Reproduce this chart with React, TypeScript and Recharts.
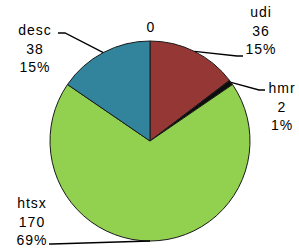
import { PieChart, Pie, Cell } from 'recharts';

// slice names, values and fills, clockwise from 12 o'clock
const NAMES = ['', 'udi', 'hmr', 'htsx', 'desc'];
const VALUES = [0, 36, 2, 170, 38];
const COLORS = ['#31849B', '#953735', '#0d0d0d', '#92D050', '#31849B'];

// Excel-style callout placement (text centre x, first baseline y, leader end + elbow)
const CALLOUTS: Record<string, { tx: number; ty: number; ex: number; ey: number; bx: number; by: number }> = {
  udi: { tx: 261, ty: 17, bx: 237, by: 56, ex: 243, ey: 56 },
  hmr: { tx: 282, ty: 93, bx: 259, by: 90, ex: 265, ey: 90 },
  htsx: { tx: 32, ty: 208, bx: 52, by: 244, ex: 49, ey: 244 },
  desc: { tx: 35, ty: 35, bx: 65, by: 33, ex: 58, ey: 33 },
};

const RAD = Math.PI / 180;
const LINE_GAP = 18.7;
const FONT = 'Liberation Sans, Arial, sans-serif';

const data = NAMES.map((name, i) => ({ name, value: VALUES[i] }));

function renderLabel(props: any) {
  const { cx, cy, midAngle, outerRadius, name, value, percent } = props;
  const ax = cx + outerRadius * Math.cos(-midAngle * RAD);
  const ay = cy + outerRadius * Math.sin(-midAngle * RAD);
  const textStyle = { fontFamily: FONT, fontSize: 14, fill: '#000', letterSpacing: 1 };

  if (!name) {
    return (
      <text x={ax + 1} y={ay - 9} textAnchor="middle" style={textStyle}>
        {value}
      </text>
    );
  }

  const c = CALLOUTS[name];
  const lines = [name, String(value), `${Math.round(percent * 100)}%`];
  return (
    <g>
      <polyline
        points={`${ax},${ay} ${c.bx},${c.by} ${c.ex},${c.ey}`}
        fill="none"
        stroke="#000"
        strokeWidth={1.3}
      />
      {lines.map((t, i) => (
        <text key={i} x={c.tx} y={c.ty + i * LINE_GAP} textAnchor="middle" style={textStyle}>
          {t}
        </text>
      ))}
    </g>
  );
}

export default function App() {
  return (
    <div style={{ position: 'fixed', left: 0, top: 0, width: 299, height: 248, background: '#fff' }}>
      <PieChart width={299} height={248} margin={{ top: 0, right: 0, bottom: 0, left: 0 }}>
        <Pie
          data={data}
          dataKey="value"
          nameKey="name"
          cx={150}
          cy={141}
          outerRadius={100}
          startAngle={90}
          endAngle={-270}
          stroke="#1a1a1a"
          strokeWidth={1}
          label={renderLabel}
          labelLine={false}
          isAnimationActive={false}
        >
          {data.map((d, i) => (
            <Cell key={d.name + i} fill={COLORS[i]} />
          ))}
        </Pie>
      </PieChart>
    </div>
  );
}
